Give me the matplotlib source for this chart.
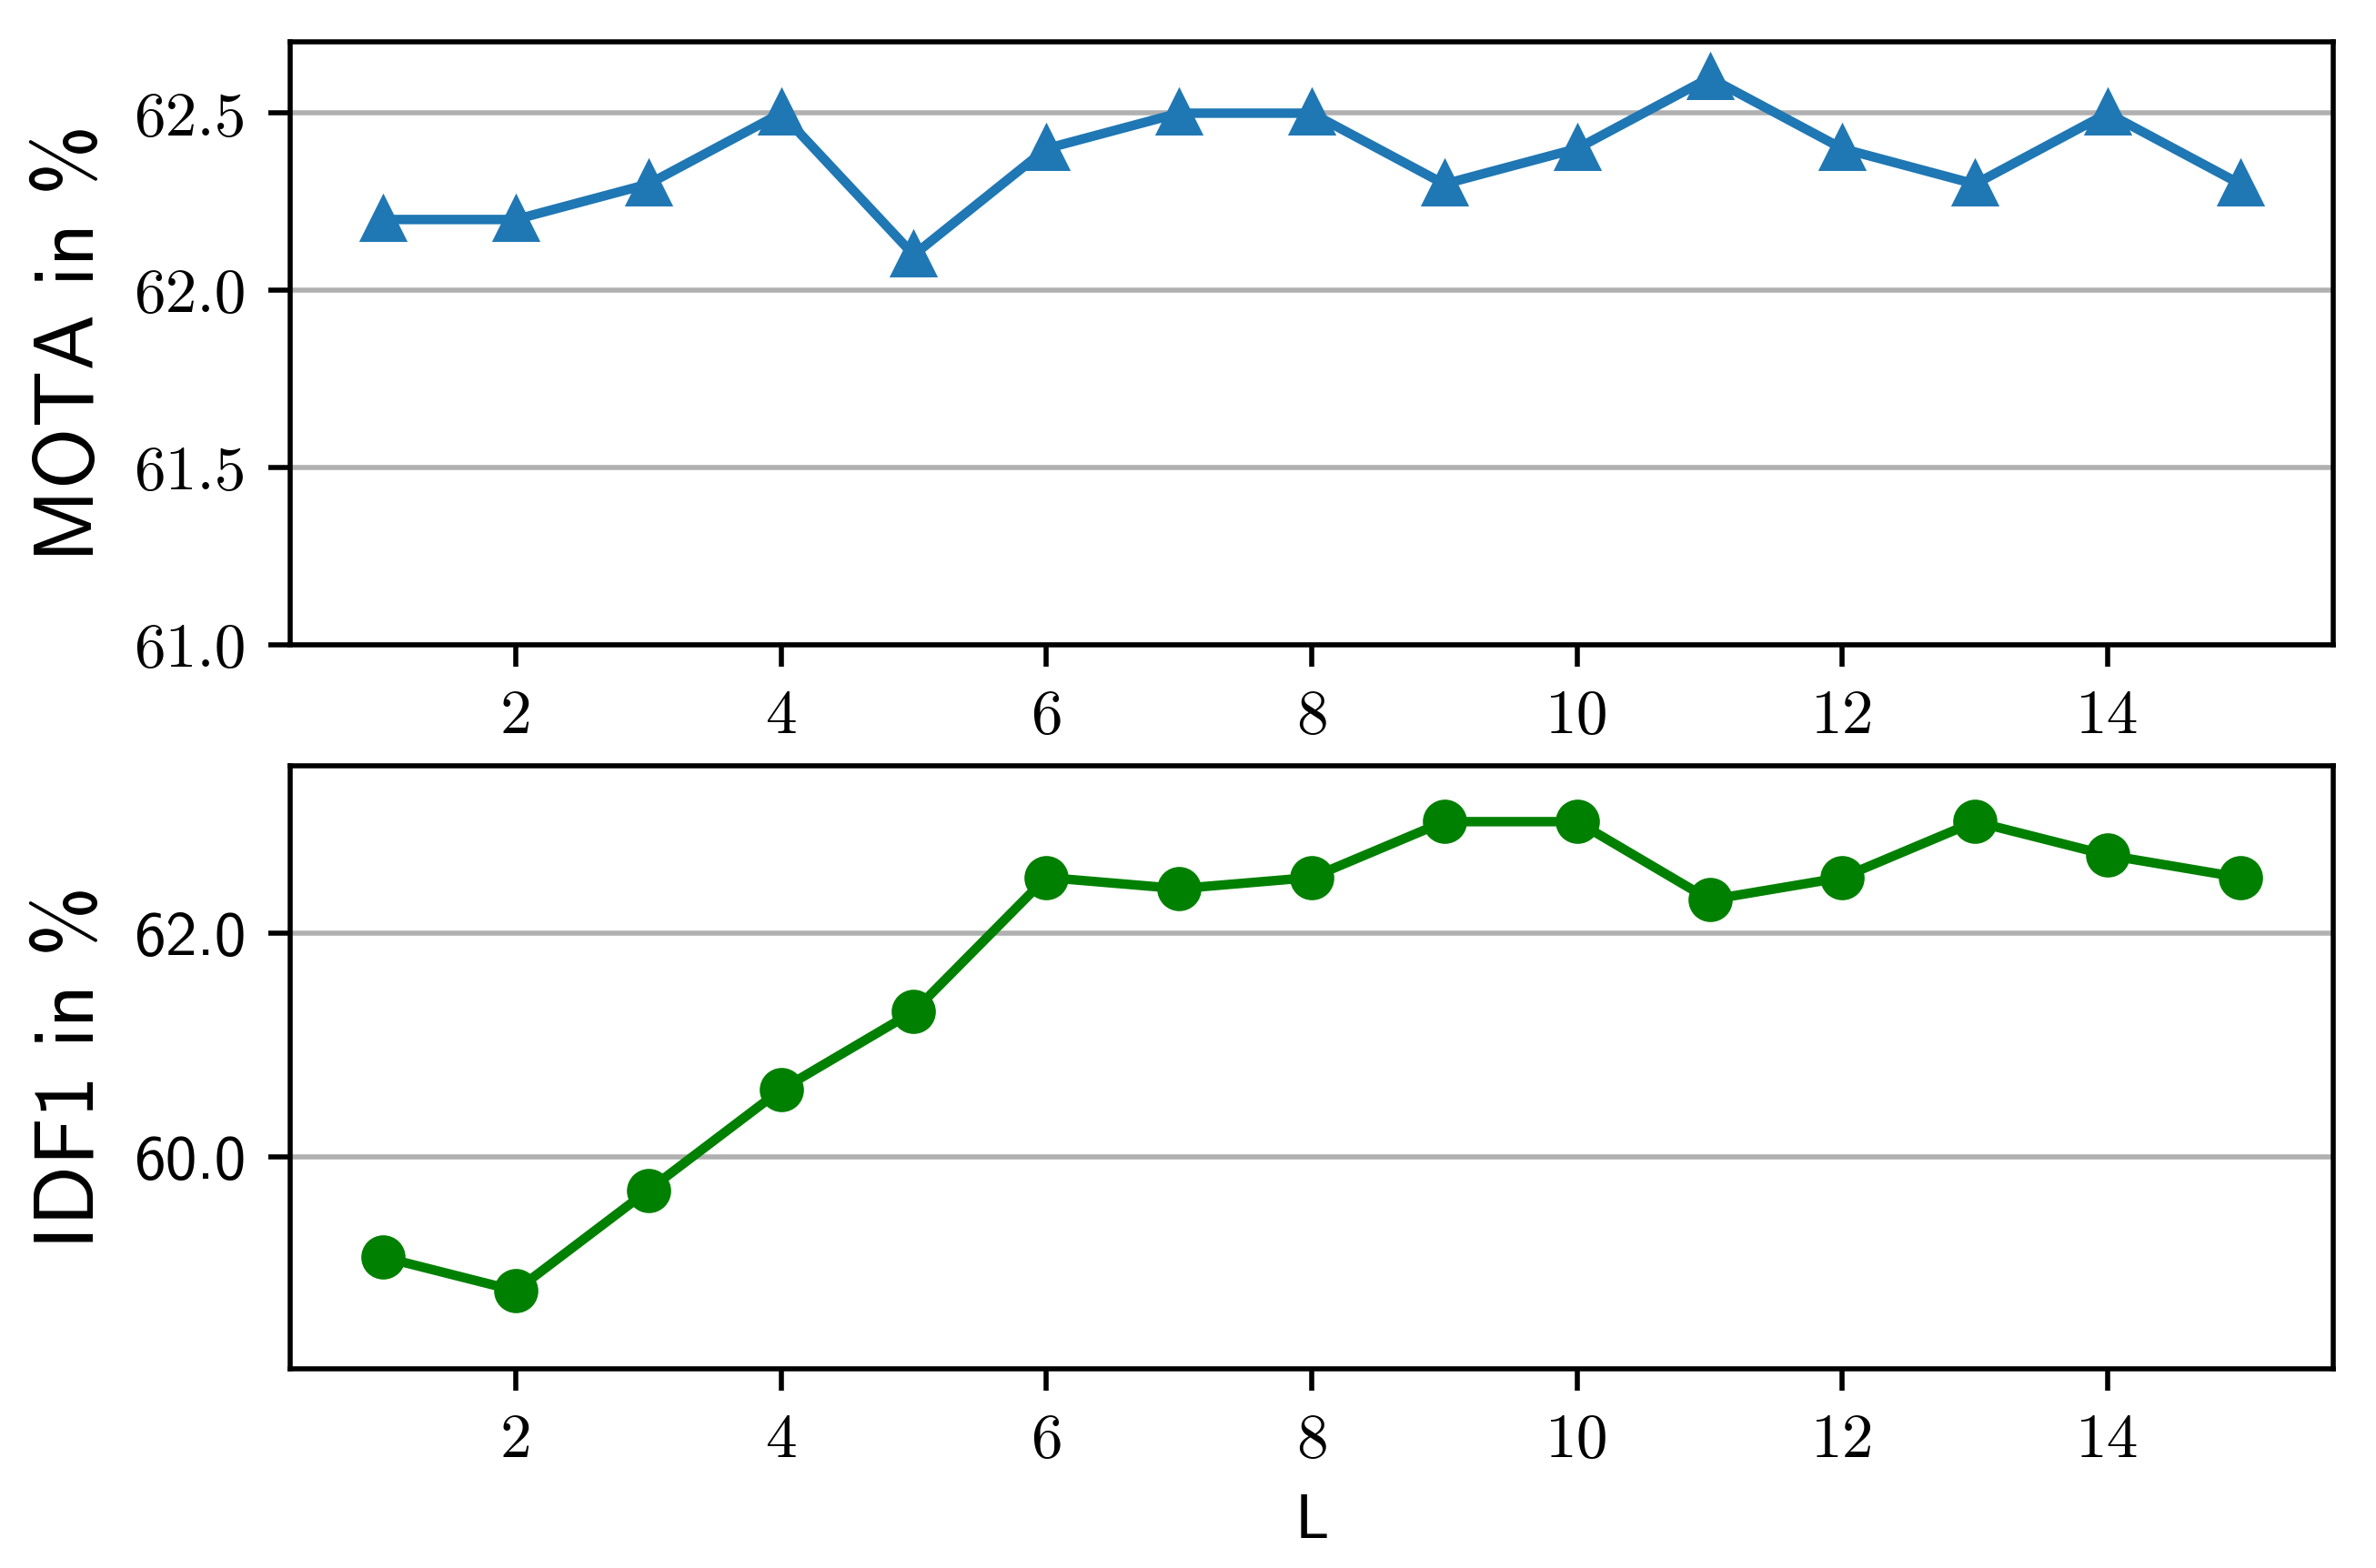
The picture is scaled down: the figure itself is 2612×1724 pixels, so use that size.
import matplotlib
matplotlib.use("Agg")
import matplotlib.pyplot as plt

# ---- data ----
L_values = [1, 2, 3, 4, 5, 6, 7, 8, 9, 10, 11, 12, 13, 14, 15]
mota = [62.2, 62.2, 62.3, 62.5, 62.1, 62.4, 62.5, 62.5, 62.3, 62.4, 62.6, 62.4, 62.3, 62.5, 62.3]
idf1 = [59.1, 58.8, 59.7, 60.6, 61.3, 62.5, 62.4, 62.5, 63.0, 63.0, 62.3, 62.5, 63.0, 62.7, 62.5]

x_ticks = [2, 4, 6, 8, 10, 12, 14]
x_tick_labels = ["2", "4", "6", "8", "10", "12", "14"]
mota_ticks = [61.0, 61.5, 62.0, 62.5]
mota_tick_labels = ["61.0", "61.5", "62.0", "62.5"]
idf1_ticks = [60.0, 62.0]
idf1_tick_labels = ["60.0", "62.0"]

DPI = 500
fig = plt.figure(figsize=(2612 / DPI, 1724 / DPI), dpi=DPI)

ax1 = fig.add_axes([0.12213, 0.58875, 0.85988, 0.38428])
ax2 = fig.add_axes([0.12213, 0.12703, 0.85988, 0.38457])

ax1.plot(L_values, mota, color="#1f77b4", marker="^", linewidth=1.5, markersize=6)
ax2.plot(L_values, idf1, color="green", marker="o", linewidth=1.5, markersize=6)

ax1.set_ylim(61.0, 62.7)
ax2.set_ylim(58.1, 63.5)

for ax in (ax1, ax2):
    ax.grid(axis="y", color="#b0b0b0", linewidth=0.8)
    ax.set_xticks(x_ticks, labels=x_tick_labels, fontfamily="cmr10", fontsize=10)

ax1.set_yticks(mota_ticks, labels=mota_tick_labels, fontfamily="cmr10", fontsize=10)
ax2.set_yticks(idf1_ticks, labels=idf1_tick_labels, fontfamily="cmss10", fontsize=10)

ax1.set_ylabel("MOTA in %", fontfamily="cmss10", fontsize=13.3)
ax2.set_ylabel("IDF1 in %", fontfamily="cmss10", fontsize=13.3)
ax1.yaxis.set_label_coords(-0.088, 0.5)
ax2.yaxis.set_label_coords(-0.088, 0.5)
ax2.set_xlabel("L", fontfamily="cmss10", fontsize=10)

fig.savefig("out.png", dpi=DPI)
